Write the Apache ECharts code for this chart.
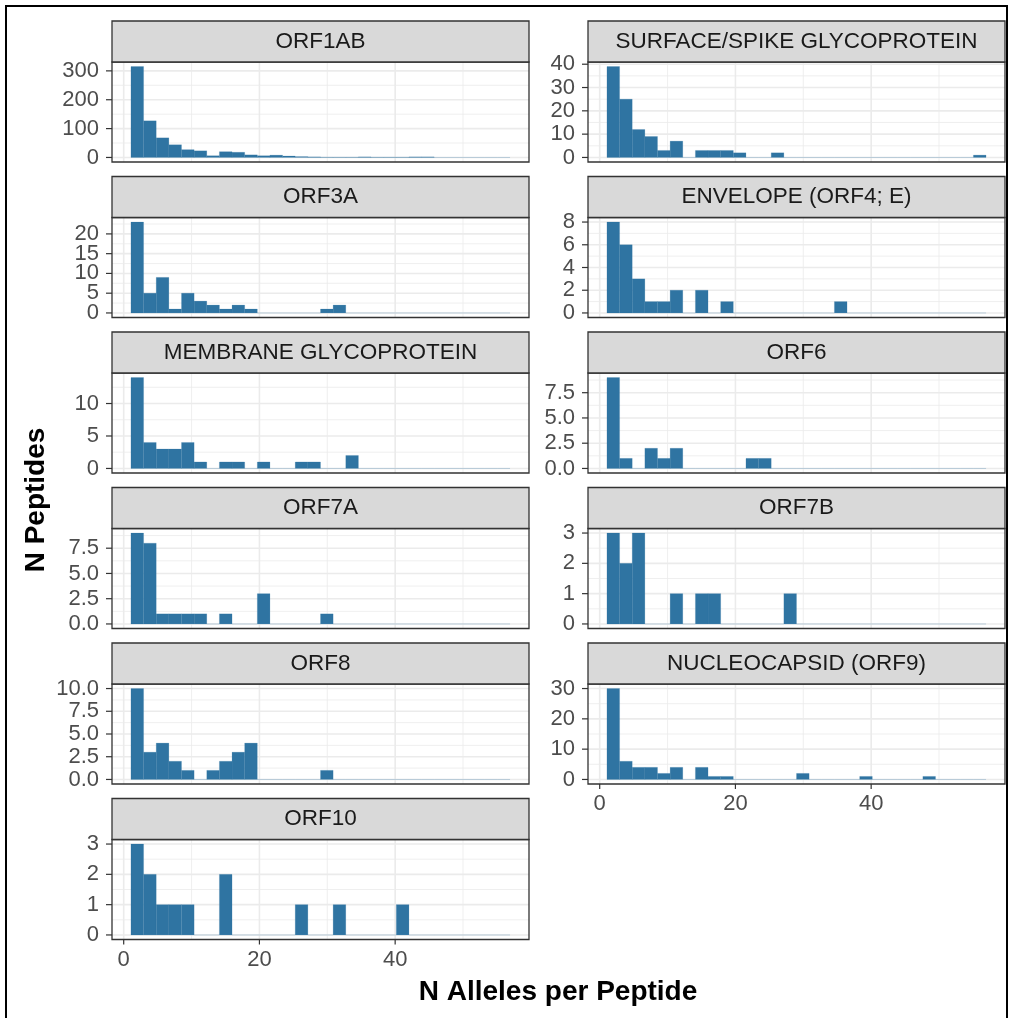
<!DOCTYPE html>
<html>
<head>
<meta charset="utf-8">
<script src="https://cdn.jsdelivr.net/npm/echarts@6/dist/echarts.min.js"></script>
<style>
  html, body { margin: 0; padding: 0; background: #ffffff; }
  #chart { width: 1010px; height: 1018px; }
</style>
</head>
<body>
<div id="chart"></div>
<script>
// Histograms of predicted binding alleles per peptide, one facet per SARS-CoV-2 protein.
// Each count array holds 30 bins spanning the 2–56 allele range.
const proteins = [
  'ORF1AB', 'SURFACE/SPIKE GLYCOPROTEIN', 'ORF3A', 'ENVELOPE (ORF4; E)',
  'MEMBRANE GLYCOPROTEIN', 'ORF6', 'ORF7A', 'ORF7B',
  'ORF8', 'NUCLEOCAPSID (ORF9)', 'ORF10'
];

const orf1abCounts   = [315,127,68,44,27,23,6,20,18,9,6,8,5,3,2,1,1,1,2,1,1,1,2,2,0,0,0,0,0,0];
const spikeCounts    = [39,25,12,9,3,7,0,3,3,3,2,0,0,2,0,0,0,0,0,0,0,0,0,0,0,0,0,0,0,1];
const orf3aCounts    = [23,5,9,1,5,3,2,1,2,1,0,0,0,0,0,1,2,0,0,0,0,0,0,0,0,0,0,0,0,0];
const envelopeCounts = [8,6,3,1,1,2,0,2,0,1,0,0,0,0,0,0,0,0,1,0,0,0,0,0,0,0,0,0,0,0];
const membraneCounts = [14,4,3,3,4,1,0,1,1,0,1,0,0,1,1,0,0,2,0,0,0,0,0,0,0,0,0,0,0,0];
const orf6Counts     = [9,1,0,2,1,2,0,0,0,0,0,1,1,0,0,0,0,0,0,0,0,0,0,0,0,0,0,0,0,0];
const orf7aCounts    = [9,8,1,1,1,1,0,1,0,0,3,0,0,0,0,1,0,0,0,0,0,0,0,0,0,0,0,0,0,0];
const orf7bCounts    = [3,2,3,0,0,1,0,1,1,0,0,0,0,0,1,0,0,0,0,0,0,0,0,0,0,0,0,0,0,0];
const orf8Counts     = [10,3,4,2,1,0,1,2,3,4,0,0,0,0,0,1,0,0,0,0,0,0,0,0,0,0,0,0,0,0];
const nucleoCounts   = [30,6,4,4,2,4,0,4,1,1,0,0,0,0,0,2,0,0,0,0,1,0,0,0,0,1,0,0,0,0];
const orf10Counts    = [3,2,1,1,1,0,0,2,0,0,0,0,0,1,0,0,1,0,0,0,0,1,0,0,0,0,0,0,0,0];

// bins: 30 bins centred on 2 .. 56
const binStart = 1.069;
const binWidth = 1.862;

// y tick labels per facet
const orf1abTicks   = ['0', '100', '200', '300'];
const spikeTicks    = ['0', '10', '20', '30', '40'];
const orf3aTicks    = ['0', '5', '10', '15', '20'];
const envelopeTicks = ['0', '2', '4', '6', '8'];
const membraneTicks = ['0', '5', '10'];
const orf6Ticks     = ['0.0', '2.5', '5.0', '7.5'];
const orf7aTicks    = ['0.0', '2.5', '5.0', '7.5'];
const orf7bTicks    = ['0', '1', '2', '3'];
const orf8Ticks     = ['0.0', '2.5', '5.0', '7.5', '10.0'];
const nucleoTicks   = ['0', '10', '20', '30'];
const orf10Ticks    = ['0', '1', '2', '3'];

// shared x axis
const alleleTicks = ['0', '20', '40'];
const alleleMinor = [10, 30, 50];

const counts = [orf1abCounts, spikeCounts, orf3aCounts, envelopeCounts, membraneCounts,
  orf6Counts, orf7aCounts, orf7bCounts, orf8Counts, nucleoCounts, orf10Counts];
const yTicks = [orf1abTicks, spikeTicks, orf3aTicks, envelopeTicks, membraneTicks,
  orf6Ticks, orf7aTicks, orf7bTicks, orf8Ticks, nucleoTicks, orf10Ticks];

// ---- layout ----
const FONT = '"Liberation Sans", Arial, Helvetica, sans-serif';
const COL_LEFT = [112, 588];
const PANEL_W = 417;
const PANEL_H = 100;
const FIRST_TOP = 62;
const ROW_PITCH = 155.5;
const STRIP_H = 41;
const TICK_LEN = 6;
const TICK_FONT = 22;
const BAR_FILL = '#2F74A2';
const ZERO_STROKE = 'rgba(47,116,162,0.28)';

// x extent: bin range padded by 5% either side
const binEnd = binStart + binWidth * 30;
const xPad = (binEnd - binStart) * 0.05;
const xMin = binStart - xPad;
const xMax = binEnd + xPad;

const chart = echarts.init(document.getElementById('chart'), null, { renderer: 'canvas' });

const grids = [], xAxes = [], yAxes = [], series = [], graphics = [];

// Grid lines, tick marks and tick labels for one facet.
// item: [x, y, kind, labelIndex]; kind 0 x-major, 1 x-minor, 2 y-major, 3 y-minor
function makeAxisRender(yLabels, showX) {
  return function (params, api) {
    const cs = params.coordSys;
    const kind = api.value(2);
    const major = (kind === 0 || kind === 2);
    const gridStyle = { stroke: '#EBEBEB', lineWidth: major ? 1.6 : 0.8 };
    const children = [];
    if (kind < 2) {
      const x = api.coord([api.value(0), 0])[0];
      children.push({ type: 'line', shape: { x1: x, y1: cs.y, x2: x, y2: cs.y + cs.height }, style: gridStyle });
      if (kind === 0 && showX) {
        const yb = cs.y + cs.height;
        children.push({ type: 'line', shape: { x1: x, y1: yb, x2: x, y2: yb + TICK_LEN - 1 },
          style: { stroke: '#333333', lineWidth: 1.2 } });
        children.push({ type: 'text', x: x, y: yb + 9,
          style: { text: alleleTicks[api.value(3)], fontSize: TICK_FONT, fontFamily: FONT,
            fill: '#4D4D4D', align: 'center', verticalAlign: 'top' } });
      }
    } else {
      const y = api.coord([0, api.value(1)])[1];
      children.push({ type: 'line', shape: { x1: cs.x, y1: y, x2: cs.x + cs.width, y2: y }, style: gridStyle });
      if (kind === 2) {
        children.push({ type: 'line', shape: { x1: cs.x - TICK_LEN, y1: y, x2: cs.x, y2: y },
          style: { stroke: '#333333', lineWidth: 1.2 } });
        children.push({ type: 'text', x: cs.x - 13, y: y,
          style: { text: yLabels[api.value(3)], fontSize: TICK_FONT, fontFamily: FONT,
            fill: '#4D4D4D', align: 'right', verticalAlign: 'middle' } });
      }
    }
    return { type: 'group', children };
  };
}

function barRender(params, api) {
  const x0 = api.value(0), x1 = api.value(1), n = api.value(2);
  const top = api.coord([x0, n]);
  const base = api.coord([x1, 0]);
  if (n === 0) {
    return { type: 'line', shape: { x1: top[0], y1: base[1], x2: base[0], y2: base[1] },
      style: { stroke: ZERO_STROKE, lineWidth: 1 } };
  }
  return { type: 'rect',
    shape: { x: top[0], y: top[1], width: base[0] - top[0], height: base[1] - top[1] },
    style: { fill: BAR_FILL, stroke: 'rgba(47,116,162,0.35)', lineWidth: 0.5 } };
}

proteins.forEach((name, k) => {
  const col = k % 2;
  const row = Math.floor(k / 2);
  const left = COL_LEFT[col];
  const top = FIRST_TOP + row * ROW_PITCH;
  const bottomFacet = (k === 9 || k === 10);

  const data = counts[k];
  const peak = Math.max(...data);
  const yMin = -0.05 * peak;
  const yMax = 1.05 * peak;
  const tickLabels = yTicks[k];
  const tickVals = tickLabels.map(Number);
  const xTickVals = alleleTicks.map(Number);

  grids.push({ left, top, width: PANEL_W, height: PANEL_H, show: true,
    backgroundColor: '#ffffff', borderWidth: 0, containLabel: false });

  xAxes.push({ gridIndex: k, type: 'value', min: xMin, max: xMax,
    axisLine: { show: false }, splitLine: { show: false },
    axisTick: { show: false }, axisLabel: { show: false } });
  yAxes.push({ gridIndex: k, type: 'value', min: yMin, max: yMax,
    axisLine: { show: false }, splitLine: { show: false },
    axisTick: { show: false }, axisLabel: { show: false } });

  // grid lines, ticks and labels
  const axisItems = [];
  xTickVals.forEach((v, i) => axisItems.push([v, 0, 0, i]));
  alleleMinor.forEach(v => { if (v > xMin && v < xMax) axisItems.push([v, 0, 1, -1]); });
  const step = tickVals[1] - tickVals[0];
  tickVals.forEach((v, i) => {
    axisItems.push([0, v, 2, i]);
    const m = v + step / 2;
    if (m < yMax) axisItems.push([0, m, 3, -1]);
  });
  series.push({ type: 'custom', xAxisIndex: k, yAxisIndex: k, z: 1, silent: true, clip: false,
    renderItem: makeAxisRender(tickLabels, bottomFacet), encode: { x: 0, y: 1 }, data: axisItems });

  // histogram bars
  const bars = data.map((n, i) => [binStart + i * binWidth, binStart + (i + 1) * binWidth, n]);
  series.push({ type: 'custom', xAxisIndex: k, yAxisIndex: k, z: 2, silent: true,
    renderItem: barRender, encode: { x: [0, 1], y: 2 }, data: bars });

  // panel border
  graphics.push({ type: 'rect', z: 100, silent: true,
    shape: { x: left, y: top, width: PANEL_W, height: PANEL_H },
    style: { fill: null, stroke: '#333333', lineWidth: 1.3 } });

  // facet strip
  graphics.push({ type: 'rect', z: 100, silent: true,
    shape: { x: left, y: top - STRIP_H, width: PANEL_W, height: STRIP_H },
    style: { fill: '#D9D9D9', stroke: '#333333', lineWidth: 1.3 } });
  graphics.push({ type: 'text', z: 101, silent: true,
    x: left + PANEL_W / 2, y: top - STRIP_H / 2,
    style: { text: name, fontSize: 22.5, fontFamily: FONT, fill: '#1A1A1A',
      align: 'center', verticalAlign: 'middle' } });
});

// axis titles
graphics.push({ type: 'text', z: 101, silent: true, x: 558, y: 992,
  style: { text: 'N Alleles per Peptide', fontSize: 28, fontWeight: 'bold', fontFamily: FONT,
    fill: '#000000', align: 'center', verticalAlign: 'middle' } });
graphics.push({ type: 'text', z: 101, silent: true, x: 36, y: 500, rotation: Math.PI / 2,
  style: { text: 'N Peptides', fontSize: 28, fontWeight: 'bold', fontFamily: FONT,
    fill: '#000000', align: 'center', verticalAlign: 'middle' } });

// figure frame
graphics.push({ type: 'rect', z: 102, silent: true,
  shape: { x: 6, y: 6, width: 1001, height: 1030 },
  style: { fill: null, stroke: '#000000', lineWidth: 2 } });

chart.setOption({
  animation: false,
  backgroundColor: '#ffffff',
  grid: grids,
  xAxis: xAxes,
  yAxis: yAxes,
  series: series,
  graphic: graphics
});
</script>
</body>
</html>
